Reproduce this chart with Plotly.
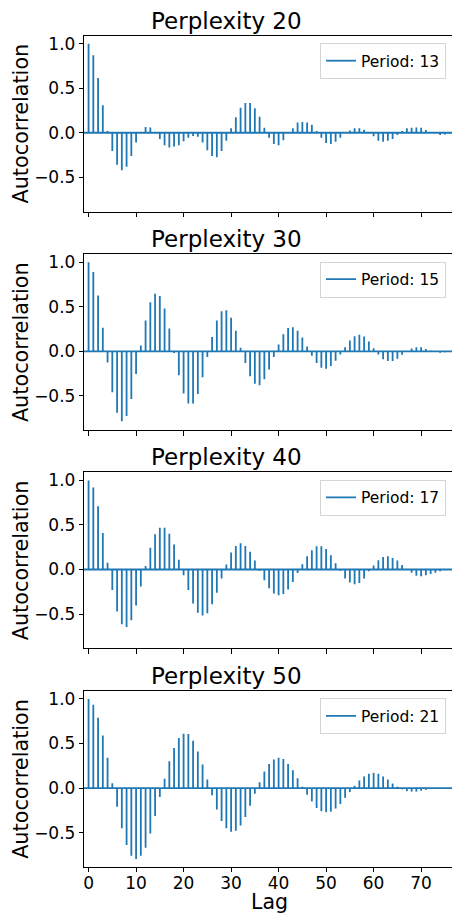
import plotly.graph_objects as go

# ---------------- data ----------------
lags = list(range(77))

titles = ["Perplexity 20", "Perplexity 30", "Perplexity 40", "Perplexity 50"]
periods = ["Period: 13", "Period: 15", "Period: 17", "Period: 21"]

acf_20 = [1.0, 0.87, 0.615, 0.31, 0.02, -0.205, -0.36, -0.42, -0.38, -0.26,
          -0.11, 0.005, 0.065, 0.06, 0.0, -0.07, -0.14, -0.165, -0.155, -0.14,
          -0.095, -0.055, -0.035, -0.045, -0.11, -0.195, -0.26, -0.275, -0.205, -0.09,
          0.05, 0.175, 0.28, 0.335, 0.335, 0.275, 0.18, 0.055, -0.055, -0.125,
          -0.14, -0.085, -0.005, 0.05, 0.115, 0.12, 0.115, 0.09, 0.02, -0.055,
          -0.115, -0.125, -0.1, -0.055, 0.0, 0.025, 0.05, 0.05, 0.035, -0.005,
          -0.04, -0.09, -0.1, -0.09, -0.07, -0.025, 0.02, 0.05, 0.055, 0.06,
          0.055, 0.03, 0.01, 0.0, -0.025, -0.02, -0.01]

acf_30 = [1.0, 0.89, 0.625, 0.265, -0.125, -0.46, -0.69, -0.785, -0.725, -0.535,
          -0.255, 0.065, 0.345, 0.55, 0.645, 0.62, 0.48, 0.255, -0.02, -0.27,
          -0.475, -0.585, -0.585, -0.48, -0.29, -0.065, 0.16, 0.345, 0.45, 0.46,
          0.375, 0.23, 0.04, -0.13, -0.28, -0.365, -0.38, -0.315, -0.205, -0.065,
          0.075, 0.19, 0.26, 0.27, 0.23, 0.155, 0.055, -0.05, -0.13, -0.185,
          -0.195, -0.165, -0.105, -0.035, 0.045, 0.12, 0.17, 0.185, 0.165, 0.11,
          0.035, -0.035, -0.09, -0.11, -0.11, -0.085, -0.04, 0.0, 0.03, 0.045,
          0.045, 0.025, 0.005, 0.0, -0.015, -0.01, 0.0]

acf_40 = [1.0, 0.92, 0.71, 0.41, 0.075, -0.23, -0.47, -0.615, -0.645, -0.57,
          -0.405, -0.19, 0.04, 0.245, 0.395, 0.47, 0.47, 0.40, 0.28, 0.11,
          -0.065, -0.23, -0.38, -0.485, -0.515, -0.49, -0.39, -0.26, -0.10, 0.055,
          0.19, 0.265, 0.295, 0.265, 0.20, 0.10, -0.015, -0.12, -0.21, -0.27,
          -0.29, -0.275, -0.225, -0.14, -0.04, 0.06, 0.15, 0.215, 0.26, 0.26,
          0.23, 0.16, 0.07, -0.015, -0.10, -0.145, -0.165, -0.15, -0.10, -0.02,
          0.045, 0.105, 0.14, 0.15, 0.13, 0.10, 0.05, 0.0, -0.035, -0.07,
          -0.075, -0.065, -0.05, -0.035, -0.02, -0.005, 0.0]

acf_50 = [1.0, 0.935, 0.79, 0.59, 0.34, 0.055, -0.21, -0.45, -0.64, -0.76,
          -0.795, -0.76, -0.67, -0.51, -0.315, -0.10, 0.105, 0.30, 0.45, 0.56,
          0.61, 0.605, 0.53, 0.41, 0.265, 0.095, -0.08, -0.24, -0.37, -0.45,
          -0.49, -0.48, -0.42, -0.325, -0.20, -0.065, 0.065, 0.185, 0.27, 0.32,
          0.34, 0.325, 0.27, 0.20, 0.11, 0.015, -0.075, -0.15, -0.225, -0.26,
          -0.27, -0.265, -0.23, -0.18, -0.11, -0.045, 0.025, 0.085, 0.13, 0.16,
          0.17, 0.16, 0.13, 0.095, 0.05, 0.015, -0.015, -0.035, -0.04, -0.04,
          -0.03, -0.02, -0.01, 0.0, 0.0, 0.0, 0.0]

series = [acf_20, acf_30, acf_40, acf_50]

y_tickvals = [-0.5, 0.0, 0.5, 1.0]
y_ticktext = ["\u22120.5", "0.0", "0.5", "1.0"]
x_tickvals = [0, 10, 20, 30, 40, 50, 60, 70]
x_ticktext = ["0", "10", "20", "30", "40", "50", "60", "70"]

# ---------------- layout geometry ----------------
W, H = 452, 915
FONT = "DejaVu Sans"
BLUE = "#1f77b4"
panel_top = [33.7, 252.7, 471.4, 690.4]
panel_h = 176.4
x_left = 83.0

fig = go.Figure()
layout = dict(
    width=W, height=H,
    margin=dict(l=0, r=0, t=0, b=0),
    paper_bgcolor="white", plot_bgcolor="white",
    font=dict(family=FONT, color="black", size=16),
    showlegend=True,
)
annotations = []

for i, (vals, title, per) in enumerate(zip(series, titles, periods)):
    n = "" if i == 0 else str(i + 1)
    xa, ya = "x" + n, "y" + n
    lg = "legend" + n
    sx, sy = [], []
    for l, v in zip(lags, vals):
        sx += [l, l, None]
        sy += [0, v, None]
    fig.add_trace(go.Scatter(x=sx, y=sy, mode="lines", xaxis=xa, yaxis=ya,
                             line=dict(color=BLUE, width=1.8), name=per,
                             legend=lg, showlegend=True, hoverinfo="skip"))
    fig.add_trace(go.Scatter(x=[lags[0] - 1, lags[-1] + 1], y=[0, 0], mode="lines",
                             xaxis=xa, yaxis=ya, line=dict(color=BLUE, width=1.8),
                             showlegend=False, hoverinfo="skip"))
    top = panel_top[i]
    bot = top + panel_h
    layout["xaxis" + n] = dict(
        domain=[x_left / W, 1.0], range=[-1, 76.5], anchor=ya,
        showline=True, linecolor="black", linewidth=1, mirror=True,
        ticks="outside", ticklen=4.5, tickwidth=1, tickcolor="black",
        tickvals=x_tickvals, ticktext=x_ticktext, ticklabelstandoff=-4,
        showticklabels=(i == 3), tickfont=dict(size=17, family=FONT),
        showgrid=False, zeroline=False,
    )
    layout["yaxis" + n] = dict(
        domain=[1 - bot / H, 1 - top / H], range=[-0.885, 1.09], anchor=xa,
        showline=True, linecolor="black", linewidth=1, mirror=False,
        ticks="outside", ticklen=4, tickwidth=1, tickcolor="black",
        tickvals=y_tickvals, ticktext=y_ticktext,
        tickfont=dict(size=17, family=FONT),
        showgrid=False, zeroline=False,
    )
    layout[lg] = dict(
        x=446 / W, y=1 - (top + 7.5) / H, xanchor="right", yanchor="top",
        bgcolor="white", bordercolor="#d5d5d5", borderwidth=1,
        font=dict(size=15.5, family=FONT, color="black"),
    )
    annotations.append(dict(text=title, x=226 / W, y=1 - (top - 15) / H,
                            xref="paper", yref="paper", showarrow=False,
                            xanchor="center", yanchor="middle",
                            font=dict(size=23, family=FONT, color="black")))
    annotations.append(dict(text="Autocorrelation", x=20 / W, y=1 - (top + panel_h / 2) / H,
                            xref="paper", yref="paper", showarrow=False, textangle=-90,
                            xanchor="center", yanchor="middle",
                            font=dict(size=20.8, family=FONT, color="black")))

annotations.append(dict(text="Lag", x=269 / W, y=1 - 902 / H, xref="paper", yref="paper",
                        showarrow=False, xanchor="center", yanchor="middle",
                        font=dict(size=20.5, family=FONT, color="black")))
layout["annotations"] = annotations
fig.update_layout(**layout)
fig.write_html("out.html")
